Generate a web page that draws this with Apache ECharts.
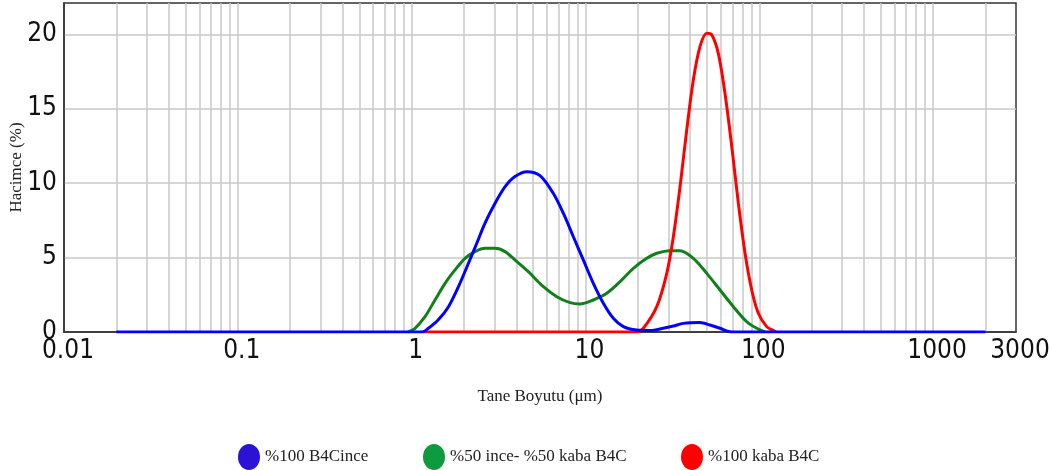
<!DOCTYPE html>
<html>
<head>
<meta charset="utf-8">
<script src="https://cdn.jsdelivr.net/npm/echarts@6/dist/echarts.min.js"></script>
<style>
  html, body { margin: 0; padding: 0; background: #fff; }
  #size_chart { width: 1052px; height: 470px; }
</style>
</head>
<body>
<div id="size_chart"></div>
<script>
// tane boyutu (µm) ve hacimce (%) degerleri
var blueX = [0.02, 1.0, 1.15, 1.25, 1.42, 1.63, 1.86, 2.12, 2.37, 2.64, 3.02, 3.45, 3.93, 4.6, 5.48, 6.54, 7.46, 8.52, 9.72, 11.1, 12.68, 14.47, 16.52, 19.73, 23.5, 28.07, 32.05, 36.6, 45.6, 52.1, 59.5, 67.9, 80, 2000];
var blueY = [0, 0, 0, 0.25, 0.8, 1.7, 3.05, 4.6, 5.96, 7.3, 8.65, 9.76, 10.44, 10.77, 10.5, 9.3, 7.98, 6.4, 4.84, 3.27, 1.93, 0.92, 0.36, 0.13, 0.1, 0.25, 0.4, 0.58, 0.63, 0.47, 0.25, 0.02, 0, 0];

var greenX = [0.953, 1.046, 1.194, 1.363, 1.557, 1.777, 2.029, 2.317, 2.645, 3.02, 3.45, 3.93, 4.69, 5.73, 6.84, 8.16, 9.31, 11.1, 13.26, 15.82, 18.87, 22.53, 25.72, 30.68, 35.03, 41.77, 49.89, 59.5, 70.96, 84.76, 96.7, 108];
var greenY = [0, 0.25, 1.03, 2.15, 3.27, 4.17, 4.95, 5.4, 5.62, 5.62, 5.4, 4.84, 4.05, 3.04, 2.37, 1.97, 1.88, 2.15, 2.6, 3.38, 4.28, 4.95, 5.29, 5.46, 5.46, 4.95, 3.94, 2.82, 1.7, 0.69, 0.25, 0];

var redX = [1.163, 19.73, 21.54, 25.72, 29.37, 32.05, 35.03, 38.27, 41.77, 45.6, 49.89, 53.3, 58.17, 63.56, 69.5, 75.83, 82.86, 90.5, 98.8, 110.4, 120.5, 125];
var redY = [0, 0, 0.25, 1.7, 3.94, 6.4, 9.77, 13.58, 16.94, 19.17, 20.07, 19.96, 18.7, 16.0, 12.45, 8.65, 5.29, 2.82, 1.26, 0.36, 0.09, 0];

var seriesNames = ['%100 B4Cince', '%50 ince- %50 kaba B4C', '%100 kaba B4C'];
var lineColors = ['#0000ff', '#10801a', '#ff0000'];
var legendColors = ['#2b12d6', '#0e9a3e', '#ff0000'];

var xTickValues = [0.01, 0.1, 1, 10, 100, 1000, 3000];
var xTickLabels = ['0.01', '0.1', '1', '10', '100', '1000', '3000'];
var yTickValues = [0, 5, 10, 15, 20];

// log eksen cizgileri: 0.02 ... 2000
var gridSizes = [];
[0.01, 0.1, 1, 10, 100, 1000].forEach(function (d) {
    for (var m = 1; m <= 9; m++) {
        var v = m * d;
        if (v > 0.01 && v <= 2000) gridSizes.push(v);
    }
});

function toPoints(xs, ys) {
    return xs.map(function (x, i) { return [Math.log10(x), ys[i]]; });
}

var labelFont = ['Liberation Sans Narrow', 'DejaVu Sans Condensed', 'DejaVu Sans', 'sans-serif'].join(',');
var serifFont = 'Liberation Serif, serif';

var myChart = echarts.init(document.getElementById('size_chart'), null, { renderer: 'canvas' });

var xMin = Math.log10(xTickValues[0]);
var xMax = Math.log10(xTickValues[xTickValues.length - 1]);

var ellipse = 'path://M11,0 A11,13 0 1,1 11,26 A11,13 0 1,1 11,0 Z';
var legendLeft = [233, 418, 676];

var option = {
    backgroundColor: '#fff',
    animation: false,
    grid: {
        left: 64,
        right: 36,
        top: 3,
        bottom: 138,
        containLabel: false,
        outerBoundsMode: 'none',
        show: true,
        borderColor: '#333',
        borderWidth: 1.5,
        backgroundColor: 'transparent'
    },
    legend: seriesNames.map(function (name, i) {
        return {
            left: legendLeft[i],
            top: 439,
            icon: ellipse,
            itemWidth: 22,
            itemHeight: 26,
            itemGap: 7,
            selectedMode: false,
            textStyle: { fontFamily: serifFont, fontSize: 17, color: '#222' },
            data: [{ name: name, itemStyle: { color: legendColors[i], borderWidth: 0 } }]
        };
    }),
    xAxis: {
        type: 'value',
        min: xMin,
        max: xMax,
        name: 'Tane Boyutu (μm)',
        nameLocation: 'middle',
        nameGap: 56,
        nameMoveOverlap: false,
        nameTextStyle: { fontFamily: serifFont, fontSize: 17, color: '#222' },
        axisLine: { show: true, onZero: false, lineStyle: { color: '#333', width: 1.5 } },
        axisTick: {
            show: false,
            customValues: gridSizes.map(function (v) { return Math.log10(v); })
        },
        axisLabel: {
            margin: 6,
            padding: [0, 0, 0, 8],
            fontFamily: labelFont,
            fontSize: 26,
            color: '#111',
            customValues: xTickValues.map(function (v) { return Math.log10(v); }),
            formatter: function (val) {
                for (var i = 0; i < xTickValues.length; i++) {
                    if (Math.abs(Math.log10(xTickValues[i]) - val) < 1e-6) return xTickLabels[i];
                }
                return '';
            }
        },
        splitLine: { show: true, lineStyle: { color: '#c8c8c8', width: 1.5 } }
    },
    yAxis: {
        type: 'value',
        min: 0,
        max: 22.1,
        name: 'Hacimce (%)',
        nameLocation: 'middle',
        nameGap: 39,
        nameMoveOverlap: false,
        nameTextStyle: { fontFamily: serifFont, fontSize: 17, color: '#222' },
        axisLine: { show: true, onZero: false, lineStyle: { color: '#333', width: 1.5 } },
        axisTick: { show: false, customValues: [5, 10, 15, 20] },
        axisLabel: {
            margin: 7,
            fontFamily: labelFont,
            fontSize: 26,
            color: '#111',
            customValues: yTickValues
        },
        splitLine: { show: true, lineStyle: { color: '#c8c8c8', width: 1.5 } }
    },
    series: [
        {
            name: seriesNames[0],
            type: 'line',
            z: 4,
            smooth: 0.3,
            showSymbol: false,
            lineStyle: { width: 3, color: lineColors[0] },
            itemStyle: { color: lineColors[0] },
            data: toPoints(blueX, blueY)
        },
        {
            name: seriesNames[1],
            type: 'line',
            z: 2,
            smooth: 0.3,
            showSymbol: false,
            lineStyle: { width: 3, color: lineColors[1] },
            itemStyle: { color: lineColors[1] },
            data: toPoints(greenX, greenY)
        },
        {
            name: seriesNames[2],
            type: 'line',
            z: 3,
            smooth: 0.3,
            showSymbol: false,
            lineStyle: { width: 3, color: lineColors[2] },
            itemStyle: { color: lineColors[2] },
            data: toPoints(redX, redY)
        }
    ]
};

myChart.setOption(option);
</script>
</body>
</html>
